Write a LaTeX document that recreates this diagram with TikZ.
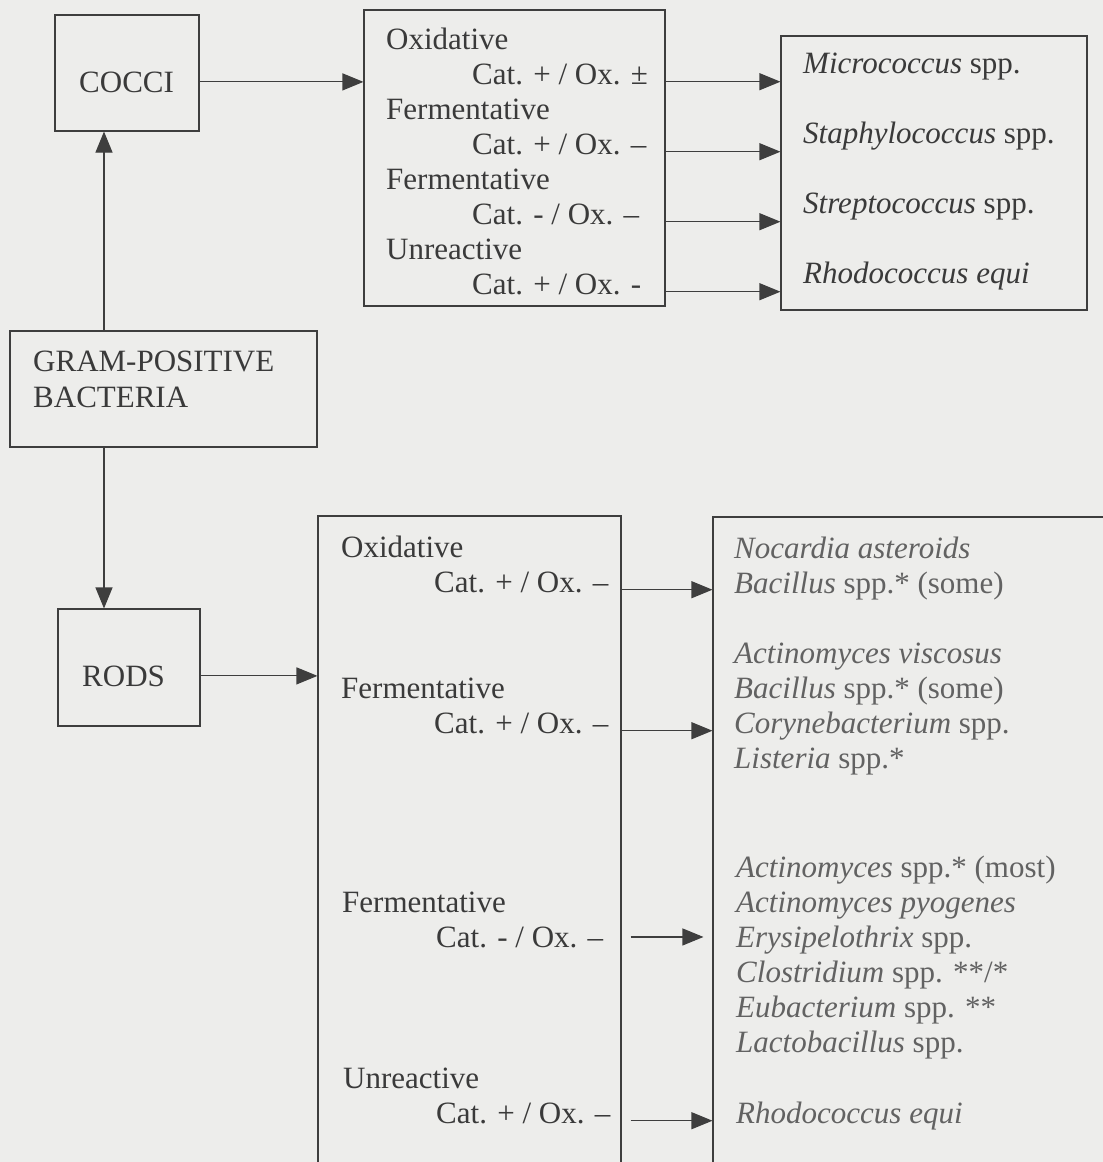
\documentclass[tikz,border=0pt]{standalone}
\usepackage{fontspec}
\setmainfont{Liberation Serif}
\usetikzlibrary{arrows.meta}
\definecolor{paper}{RGB}{237,237,235}
\definecolor{ink}{RGB}{58,58,58}
\definecolor{inksoft}{RGB}{98,98,98}
\definecolor{rule}{RGB}{62,62,62}

\begin{document}
\begin{tikzpicture}[x=1pt, y=-1pt,
  box/.style={draw=rule, line width=1.1pt, inner sep=0pt},
  txt/.style={anchor=base west, inner sep=0pt, text=ink, font=\fontsize{31}{35}\selectfont},
  genus/.style={txt, text=inksoft},
  arr/.style={draw=rule, line width=1.1pt, -{Triangle[length=21pt,width=17pt]}}]
  \fill[paper] (0,0) rectangle (1103,1162);
  \clip (0,0) rectangle (1103,1162);

  % boxes
  \node[box, minimum width=144pt, minimum height=116pt] (cocci) at (127,73) {};
  \node[box, minimum width=307pt, minimum height=116pt] (gram) at (163.5,389) {};
  \node[box, minimum width=142pt, minimum height=117pt] (rods) at (129,667.5) {};
  \node[box, minimum width=301pt, minimum height=296pt] (coxbox) at (514.5,158) {};
  \node[box, minimum width=306pt, minimum height=274pt] (cgenus) at (934,173) {};
  % these two run on below the page
  \node[box, minimum width=303pt, minimum height=700pt] (rodox) at (469.5,866) {};
  \node[box, minimum width=440pt, minimum height=700pt] (rgenus) at (933,867) {};
  \coordinate (stem) at (104,389);

  % left column
  \node[txt] (cocciT) at (79,92) {COCCI};
  \node[txt] (gramA) at (33,371) {GRAM-POSITIVE};
  \node[txt] (gramB) at (33,407) {BACTERIA};
  \node[txt] (rodsT) at (82,686) {RODS};

  % cocci tests
  \node[txt] (cOxi) at (386,49) {Oxidative};
  \node[txt] (cOxiCat) at (472,84) {Cat. + / Ox. ±};
  \node[txt] (cFerA) at (386,119) {Fermentative};
  \node[txt] (cFerACat) at (472,154) {Cat. + / Ox. –};
  \node[txt] (cFerB) at (386,189) {Fermentative};
  \node[txt] (cFerBCat) at (472,224) {Cat. - / Ox. –};
  \node[txt] (cUnr) at (386,259) {Unreactive};
  \node[txt] (cUnrCat) at (472,294) {Cat. + / Ox. -};

  \node[txt] (gMicro) at (803,73) {\textit{Micrococcus} spp.};
  \node[txt] (gStaph) at (803,143) {\textit{Staphylococcus} spp.};
  \node[txt] (gStrep) at (803,213) {\textit{Streptococcus} spp.};
  \node[txt] (gRhodo) at (803,283) {\textit{Rhodococcus equi}};

  % rod tests
  \node[txt] (rOxi) at (341,557) {Oxidative};
  \node[txt] (rOxiCat) at (434,592) {Cat. + / Ox. –};
  \node[txt] (rFerA) at (341,698) {Fermentative};
  \node[txt] (rFerACat) at (434,733) {Cat. + / Ox. –};
  \node[txt] (rFerB) at (342,912) {Fermentative};
  \node[txt] (rFerBCat) at (436,947) {Cat. - / Ox. –};
  \node[txt] (rUnr) at (343,1088) {Unreactive};
  \node[txt] (rUnrCat) at (436,1123) {Cat. + / Ox. –};

  \node[genus] (gNoc) at (734,558) {\textit{Nocardia asteroids}};
  \node[genus] (gBacA) at (734,593) {\textit{Bacillus} spp.* (some)};
  \node[genus] (gActV) at (734,663) {\textit{Actinomyces viscosus}};
  \node[genus] (gBacB) at (734,698) {\textit{Bacillus} spp.* (some)};
  \node[genus] (gCory) at (734,733) {\textit{Corynebacterium} spp.};
  \node[genus] (gList) at (734,768) {\textit{Listeria} spp.*};
  \node[genus] (gActS) at (736,877) {\textit{Actinomyces} spp.* (most)};
  \node[genus] (gActP) at (736,912) {\textit{Actinomyces pyogenes}};
  \node[genus] (gEry) at (736,947) {\textit{Erysipelothrix} spp.};
  \node[genus] (gClos) at (736,982) {\textit{Clostridium} spp. **/*};
  \node[genus] (gEub) at (736,1017) {\textit{Eubacterium} spp. **};
  \node[genus] (gLact) at (736,1052) {\textit{Lactobacillus} spp.};
  \node[genus] (gRhodoB) at (736,1123) {\textit{Rhodococcus equi}};

  % connectors
  \draw[arr] (stem |- gram.north) -- (stem |- cocci.south);
  \draw[arr] (stem |- gram.south) -- (stem |- rods.north);
  \draw[arr] (cocci.east |- cocciT.center) -- (coxbox.west |- cocciT.center);
  \draw[arr] (rods.east |- rodsT.center) -- (rodox.west |- rodsT.center);

  \draw[arr] (cOxiCat.mid -| coxbox.east) -- (cOxiCat.mid -| cgenus.west);
  \draw[arr] (cFerACat.mid -| coxbox.east) -- (cFerACat.mid -| cgenus.west);
  \draw[arr] (cFerBCat.mid -| coxbox.east) -- (cFerBCat.mid -| cgenus.west);
  \draw[arr] (cUnrCat.mid -| coxbox.east) -- (cUnrCat.mid -| cgenus.west);

  \draw[arr] (rOxiCat.mid -| rodox.east) -- (rOxiCat.mid -| rgenus.west);
  \draw[arr] (rFerACat.mid -| rodox.east) -- (rFerACat.mid -| rgenus.west);
  \draw[arr, shorten <=9pt, shorten >=9pt] (rFerBCat.center -| rodox.east) -- (rFerBCat.center -| rgenus.west);
  \draw[arr, shorten <=9pt] (rUnrCat.mid -| rodox.east) -- (rUnrCat.mid -| rgenus.west);
\end{tikzpicture}
\end{document}
